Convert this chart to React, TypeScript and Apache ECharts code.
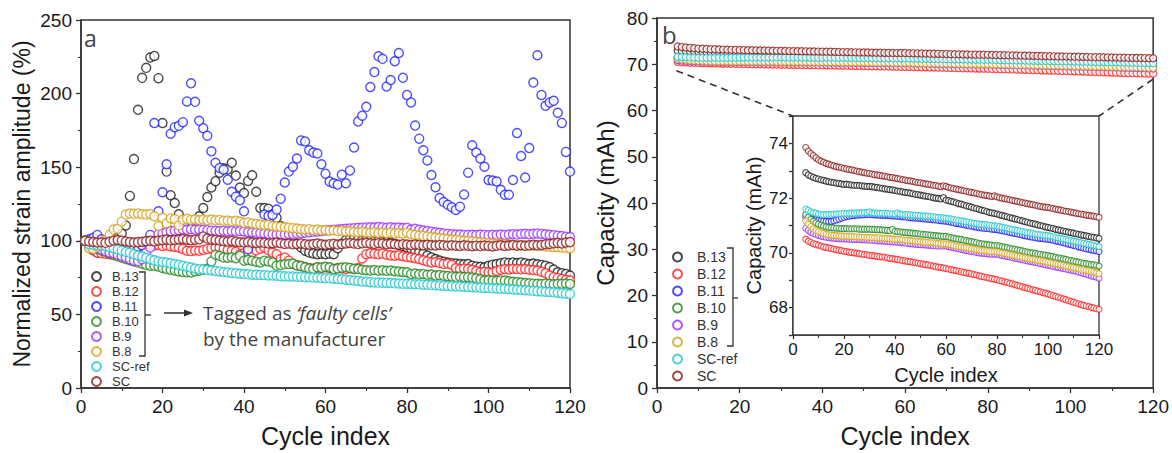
import React, { useEffect, useRef } from "react";
import * as echarts from "echarts";

const NAMES = ["B.13", "B.12", "B.11", "B.10", "B.9", "B.8", "SC-ref", "SC"];
const COLORS = ["#1a1a1a", "#ff1f1f", "#1f1fff", "#22881f", "#9b30ff", "#d4a21a", "#22c6cc", "#8b1a1a"];

// Panel a: normalized strain amplitude (%), cycles 1..120
const strainB13 = [100, 96, 93.5, 92, 93, 95, 97, 99, 102, 105,
  110.4, 130.5, 155.5, 189, 210.7, 217.5, 224.5, 225.6, 210.5, 180,
  147, 131, 125.7, 118, 113, 110, 108.5, 113.5, 116.7, 122.3,
  129.7, 136.2, 140.5, 146.3, 149.2, 148.5, 153, 144.3, 136.2, 132.4,
  140.7, 144.5, 133.3, 122.3, 122.3, 121.8, 118, 115.6, 110, 106,
  103, 100.5, 98, 95.5, 93.2, 92, 91.4, 90.9, 91.2, 90.9,
  91.3, 90.9, 95, 98, 100.5, 101, 101.5, 100.8, 100.2, 100.6,
  100.1, 99.8, 100, 99.5, 99.2, 98.6, 98, 97.2, 96.4, 95.5,
  94.6, 93.5, 92.4, 91.2, 90, 88.7, 87.6, 86.6, 85.8, 85.2,
  84.8, 84.5, 84.2, 84, 84.2, 83.1, 82.6, 82.3, 82, 83,
  83.8, 84.2, 84.8, 85.3, 85, 85.3, 84.9, 85.3, 84.8, 84.2,
  84.5, 84, 83.6, 83.1, 82.2, 80.5, 78.6, 78, 77.5, 76.4];
const strainB12 = [100, 97, 94, 92, 91.5, 91.2, 90.9, 90.3, 89.8, 91.5,
  93.5, 95.4, 96, 96.6, 97, 97.6, 97.2, 96.8, 97.1, 96.5,
  96.9, 96.2, 95.8, 95.4, 94.5, 93.2, 93, 93.4, 93.2, 93.8,
  94.5, 95, 95.4, 95.2, 94.6, 93.8, 93.2, 92.5, 90.9, 91.5,
  92.2, 92, 93.5, 94.6, 95.4, 93.5, 92, 90.9, 87.6, 88.7,
  86.5, 84.2, 83.5, 82.8, 82.2, 81.6, 81.2, 81.9, 81.5, 82,
  81.4, 80.9, 81.6, 81.1, 80.8, 81.3, 80.9, 81.5, 88, 90.9,
  91.5, 91.2, 90.9, 91.3, 90.6, 90.1, 89.8, 90.2, 89.5, 89,
  88.7, 88.2, 87.6, 86.8, 86, 85.3, 85.6, 84.9, 84.2, 84.5,
  83.6, 81.5, 80.8, 81.2, 80.8, 80.3, 79.4, 78.6, 78.9, 78.6,
  78.4, 79.5, 80.3, 80.8, 80.5, 81, 80.8, 80.6, 80.8, 80.3,
  80.1, 79.8, 79, 78, 76.5, 75.3, 74.8, 74.1, 73.5, 73];
const strainB11 = [100, 101, 102, 104, 101, 99.5, 98.5, 97.5, 97, 96.5,
  96, 95.5, 95.5, 96, 97, 99, 104, 180, 120, 133,
  152, 172.7, 177.2, 178.1, 180.6, 194.7, 207, 194.4, 181.5, 176.5,
  171.4, 160.8, 153, 149.5, 148.3, 141.5, 133.3, 130, 127.5, 120,
  94.3, 105.5, 107, 106.6, 117.8, 116.9, 117.5, 121.2, 128.6, 139.6,
  147, 150.3, 155.9, 168.2, 167.5, 161.5, 160, 159.3, 152, 145.6,
  140.3, 139.1, 138.2, 144.9, 139.1, 147.8, 163.4, 181, 185, 191,
  204.5, 214.6, 225.3, 223.6, 204.8, 209.2, 222, 227.6, 210.8, 199.1,
  194, 178.3, 169.4, 161.5, 154.6, 144.7, 136.4, 129, 126.3, 124.5,
  122.8, 121, 123.2, 131.5, 146.3, 164.9, 160, 155.9, 150.3, 141.3,
  140.9, 140.3, 134.6, 131.3, 131.3, 141.3, 173.2, 157.6, 143, 163,
  207.5, 226, 199.1, 191.7, 194, 195.1, 187, 180.1, 160.4, 147];
const strainB10 = [100, 97, 95.5, 94.5, 93.5, 92.5, 91.5, 90.5, 89.5, 88.5,
  87.6, 86.8, 86, 85.2, 84.4, 83.6, 83.1, 83, 82.5, 81.5,
  80.8, 80.3, 79.8, 79.2, 78.8, 78.6, 78.5, 79.3, 79.6, 80.5,
  81, 86, 90.5, 89.8, 88.7, 88.5, 88.8, 88.2, 89.8, 86.5,
  87, 86.5, 85.8, 85.3, 86.5, 85.9, 85.3, 83.1, 83.5, 84,
  84.2, 84.5, 83.2, 82.8, 82, 81.2, 80.8, 82, 81.8, 82.3,
  82, 80.8, 81.2, 81.8, 82, 81.6, 81, 80.8, 80.3, 80,
  79.8, 80.1, 79.7, 80, 79.6, 79.8, 79.3, 79.1, 78.8, 78.6,
  77.5, 77.8, 77.2, 77.5, 76.9, 77.1, 76.4, 76.7, 76.2, 76,
  75.8, 75.5, 75.7, 75.3, 75.3, 75, 74.5, 73.8, 73, 73.3,
  73, 72.8, 73.1, 73, 72.5, 72.2, 72, 71.6, 71.3, 71.1,
  70.9, 70.8, 70.6, 70.9, 70.7, 70.5, 70.8, 70.8, 71, 70.7];
const strainB9 = [100, 98, 96.5, 95, 94, 93, 92, 91.5, 90.5, 89.5,
  88.7, 87.5, 86.5, 86.2, 87.5, 92, 95.4, 100, 104.4, 105,
  105.8, 106.6, 106.9, 107.2, 107.7, 107.5, 107.9, 107.6, 107.7, 107.4,
  107.2, 106.9, 106.8, 106.6, 106.9, 106.5, 106.7, 106.4, 106.6, 106.3,
  106, 105.8, 105.5, 105.2, 105, 104.7, 104.4, 104.3, 104.5, 104.2,
  104.4, 104.6, 104.9, 105.2, 105.5, 105.8, 106.1, 106.4, 106.7, 107,
  107.3, 107.5, 107.7, 108, 108.2, 108.4, 108.6, 108.8, 108.9, 109.1,
  109.2, 109, 109.3, 109.1, 108.9, 109.2, 108.8, 109, 108.7, 108.9,
  107.7, 108.2, 107.5, 107, 106.6, 106.2, 105.8, 105.4, 105, 104.7,
  104.5, 104.3, 104.2, 104, 104, 104.1, 103.9, 104.2, 104, 103.8,
  104.1, 103.9, 104.2, 104, 104.3, 104.5, 104.2, 104.6, 104.8, 104.5,
  104.8, 105, 104.7, 104.4, 104.1, 103.8, 103.5, 103.2, 102.8, 102.6];
const strainB8 = [100, 95, 94.5, 96, 97.5, 100.5, 104, 107.7, 108.2, 113,
  117.8, 118.5, 118.3, 118.6, 118, 117.8, 118.2, 116.7, 110, 115.6,
  112, 115.2, 114.8, 110.5, 114.4, 114.9, 114.2, 114.6, 114.1, 114.5,
  114, 114.4, 113.9, 114.2, 113.6, 113.8, 113.3, 113.6, 113.1, 112.2,
  112.5, 111.8, 111.4, 111, 110.6, 110.8, 110, 109.8, 109.5, 109.2,
  108.9, 108.6, 108.3, 108, 107.7, 107.9, 107.4, 107.6, 107.1, 107.3,
  106.9, 107.1, 106.6, 106.8, 106.3, 106.5, 106, 105.8, 106.1, 105.7,
  105.5, 105.8, 105.3, 105.6, 105.2, 105.5, 105, 105.3, 104.8, 105.5,
  104.4, 104, 103.6, 103.3, 103, 102.6, 102.2, 101.9, 101.5, 101.2,
  100.9, 100.6, 100.3, 100, 99.9, 99.6, 99.3, 99, 98.7, 98.4,
  98.2, 98, 97.8, 97.6, 97.4, 97.2, 97, 96.9, 96.8, 96.7,
  96.6, 96.6, 96.4, 96.2, 96, 95.8, 95.6, 95.4, 95.2, 95];
const strainSCref = [100, 97.6, 97.3, 97, 96.8, 96.5, 95.7, 95, 94.1, 93.3,
  92.5, 91.8, 90.9, 90, 89.3, 88.4, 87.5, 86.7, 86, 85.6,
  85.2, 84.7, 84.2, 83.6, 83, 82.4, 81.8, 81.2, 80.7, 80.5,
  80.1, 79.8, 79.5, 79.2, 78.8, 78.5, 78.1, 77.9, 77.6, 77.4,
  77.2, 77, 76.9, 76.8, 76.7, 76.5, 76.4, 76.2, 76, 75.9,
  75.8, 75.7, 75.6, 75.5, 75.3, 75.2, 75, 74.9, 74.7, 74.6,
  74.5, 74.3, 74.1, 73.9, 73.6, 73.3, 73, 72.7, 72.4, 72.2,
  71.9, 71.7, 71.6, 71.5, 71.4, 71.3, 71.1, 71, 70.9, 70.8,
  70.7, 70.5, 70.4, 70.2, 70.1, 69.9, 69.8, 69.6, 69.5, 69.3,
  69.2, 69, 68.9, 68.8, 68.6, 68.5, 68.3, 68.2, 68, 67.9,
  67.7, 67.6, 67.5, 67.4, 67.2, 67, 66.8, 66.6, 66.4, 66.2,
  66, 65.8, 65.6, 65.4, 65.2, 65, 64.7, 64.4, 64.1, 63.8];
const strainSC = [100, 99.5, 99.2, 98.8, 99, 98.6, 99.3, 100.2, 100.5, 100.1,
  99.6, 99.2, 98.8, 99.1, 99.4, 99.8, 100, 99.6, 100.2, 100.4,
  100.8, 100.3, 100.6, 100.9, 101.2, 100.7, 100.4, 100.8, 101, 103,
  101.5, 100.9, 100.6, 100.2, 99.8, 99.5, 99.9, 99.4, 99, 98.8,
  99.2, 98.7, 98.5, 98.9, 98.6, 98.2, 98.4, 98.8, 98.3, 97.9,
  98.1, 97.6, 97.9, 98.2, 97.7, 97.4, 97.8, 98.1, 97.6, 97.3,
  97.7, 98, 97.5, 97.8, 98.2, 98.5, 98.1, 97.8, 98.3, 98.6,
  98.2, 97.9, 98.4, 98.1, 97.7, 98, 97.6, 97.3, 97.7, 97.4,
  97.1, 97.5, 97.2, 96.9, 97.3, 97, 96.8, 97.2, 96.9, 96.6,
  97, 96.7, 96.5, 96.9, 96.6, 96.3, 96.7, 96.4, 96.8, 96.5,
  96.2, 96.6, 96.9, 96.5, 96.8, 97.1, 96.7, 97, 96.6, 96.9,
  97.3, 96.9, 97.2, 97.6, 97.9, 98.3, 98.6, 98.2, 98.8, 99.1];

// Panel b: capacity (mAh), cycles 5..120
const capB13 = [72.93, 72.85, 72.8, 72.76, 72.72, 72.7, 72.67, 72.65, 72.62, 72.6,
  72.58, 72.57, 72.55, 72.54, 72.52, 72.5, 72.51, 72.49, 72.48, 72.47,
  72.47, 72.46, 72.45, 72.44, 72.43, 72.43, 72.42, 72.4, 72.39, 72.37,
  72.36, 72.34, 72.33, 72.31, 72.3, 72.28, 72.26, 72.25, 72.23, 72.21,
  72.2, 72.18, 72.16, 72.14, 72.13, 72.11, 72.09, 72.07, 72.06, 72.04,
  72.02, 72, 71.99, 71.97, 72.02, 71.93, 71.91, 71.88, 71.86, 71.83,
  71.8, 71.78, 71.75, 71.72, 71.7, 71.67, 71.64, 71.62, 71.59, 71.56,
  71.54, 71.51, 71.48, 71.46, 71.44, 71.42, 71.39, 71.37, 71.34, 71.32,
  71.29, 71.27, 71.24, 71.22, 71.19, 71.17, 71.14, 71.12, 71.09, 71.07,
  71.05, 71.02, 71, 70.98, 70.95, 70.93, 70.91, 70.89, 70.86, 70.84,
  70.82, 70.8, 70.78, 70.76, 70.74, 70.72, 70.7, 70.68, 70.66, 70.64,
  70.62, 70.6, 70.58, 70.57, 70.55, 70.53];
const capB12 = [70.5, 70.43, 70.38, 70.34, 70.31, 70.28, 70.25, 70.22, 70.2, 70.18,
  70.16, 70.14, 70.12, 70.1, 70.08, 70.06, 70.05, 70.03, 70.02, 70,
  69.99, 69.97, 69.96, 69.94, 69.93, 69.91, 69.9, 69.89, 69.87, 69.86,
  69.85, 69.84, 69.82, 69.8, 69.79, 69.77, 69.76, 69.74, 69.72, 69.71,
  69.69, 69.68, 69.66, 69.64, 69.63, 69.61, 69.59, 69.57, 69.56, 69.54,
  69.52, 69.5, 69.48, 69.47, 69.45, 69.43, 69.41, 69.39, 69.37, 69.35,
  69.33, 69.31, 69.29, 69.27, 69.25, 69.23, 69.21, 69.19, 69.16, 69.14,
  69.12, 69.1, 69.08, 69.06, 69.04, 69.02, 68.99, 68.97, 68.94, 68.92,
  68.89, 68.87, 68.84, 68.81, 68.79, 68.76, 68.73, 68.71, 68.68, 68.65,
  68.63, 68.6, 68.58, 68.55, 68.53, 68.5, 68.47, 68.44, 68.41, 68.38,
  68.35, 68.32, 68.29, 68.26, 68.23, 68.2, 68.17, 68.14, 68.11, 68.08,
  68.06, 68.04, 68.01, 67.99, 67.96, 67.94];
const capB11 = [71.3, 71.28, 71.25, 71.23, 71.21, 71.19, 71.17, 71.16, 71.15, 71.15,
  71.15, 71.17, 71.2, 71.23, 71.27, 71.3, 71.32, 71.34, 71.36, 71.37,
  71.38, 71.39, 71.39, 71.4, 71.4, 71.4, 71.4, 71.39, 71.39, 71.38,
  71.38, 71.37, 71.37, 71.36, 71.35, 71.35, 71.34, 71.33, 71.32, 71.31,
  71.3, 71.29, 71.28, 71.28, 71.27, 71.26, 71.25, 71.24, 71.23, 71.22,
  71.21, 71.2, 71.19, 71.18, 71.17, 71.16, 71.14, 71.12, 71.1, 71.08,
  71.07, 71.05, 71.03, 71.01, 70.99, 70.98, 70.96, 70.94, 70.92, 70.91,
  70.9, 70.89, 70.88, 70.87, 70.86, 70.85, 70.83, 70.81, 70.79, 70.77,
  70.75, 70.73, 70.71, 70.69, 70.67, 70.65, 70.63, 70.61, 70.59, 70.57,
  70.56, 70.54, 70.53, 70.52, 70.51, 70.5, 70.48, 70.46, 70.44, 70.42,
  70.4, 70.37, 70.35, 70.32, 70.3, 70.27, 70.25, 70.22, 70.2, 70.17,
  70.15, 70.13, 70.11, 70.09, 70.07, 70.05];
const capB10 = [71.4, 71.3, 71.22, 71.15, 71.1, 71.05, 71.01, 70.98, 70.95, 70.93,
  70.92, 70.91, 70.9, 70.9, 70.89, 70.89, 70.89, 70.88, 70.88, 70.88,
  70.88, 70.87, 70.87, 70.87, 70.87, 70.87, 70.86, 70.86, 70.85, 70.85,
  70.84, 70.83, 70.82, 70.81, 70.86, 70.79, 70.78, 70.77, 70.76, 70.75,
  70.74, 70.73, 70.72, 70.71, 70.7, 70.69, 70.68, 70.67, 70.66, 70.65,
  70.64, 70.63, 70.62, 70.61, 70.6, 70.6, 70.58, 70.56, 70.54, 70.52,
  70.5, 70.49, 70.47, 70.45, 70.43, 70.41, 70.39, 70.37, 70.35, 70.33,
  70.32, 70.3, 70.29, 70.28, 70.27, 70.27, 70.25, 70.23, 70.21, 70.19,
  70.17, 70.15, 70.13, 70.11, 70.09, 70.07, 70.05, 70.03, 70.01, 70,
  69.98, 69.96, 69.95, 69.93, 69.92, 69.9, 69.88, 69.86, 69.84, 69.82,
  69.8, 69.78, 69.76, 69.74, 69.72, 69.7, 69.68, 69.66, 69.64, 69.62,
  69.61, 69.59, 69.57, 69.56, 69.54, 69.52];
const capB9 = [70.9, 70.82, 70.76, 70.71, 70.67, 70.64, 70.61, 70.59, 70.57, 70.56,
  70.55, 70.54, 70.53, 70.52, 70.52, 70.51, 70.51, 70.5, 70.5, 70.49,
  70.49, 70.49, 70.48, 70.48, 70.47, 70.47, 70.46, 70.46, 70.45, 70.44,
  70.44, 70.43, 70.42, 70.41, 70.4, 70.4, 70.39, 70.38, 70.37, 70.36,
  70.35, 70.34, 70.33, 70.32, 70.31, 70.3, 70.3, 70.29, 70.28, 70.27,
  70.26, 70.26, 70.25, 70.25, 70.25, 70.25, 70.23, 70.21, 70.19, 70.17,
  70.15, 70.13, 70.11, 70.09, 70.07, 70.05, 70.04, 70.02, 70, 69.99,
  69.98, 69.97, 69.96, 69.95, 69.95, 69.95, 69.93, 69.91, 69.89, 69.87,
  69.85, 69.83, 69.81, 69.79, 69.77, 69.75, 69.73, 69.71, 69.69, 69.67,
  69.65, 69.63, 69.61, 69.59, 69.57, 69.55, 69.53, 69.51, 69.49, 69.47,
  69.45, 69.43, 69.41, 69.39, 69.37, 69.35, 69.33, 69.3, 69.28, 69.25,
  69.22, 69.19, 69.16, 69.14, 69.11, 69.08];
const capB8 = [71.17, 71.05, 70.96, 70.88, 70.82, 70.78, 70.74, 70.71, 70.68, 70.66,
  70.65, 70.64, 70.63, 70.62, 70.62, 70.61, 70.61, 70.6, 70.6, 70.59,
  70.59, 70.58, 70.58, 70.58, 70.57, 70.57, 70.56, 70.56, 70.55, 70.55,
  70.54, 70.53, 70.53, 70.52, 70.51, 70.5, 70.5, 70.49, 70.48, 70.47,
  70.46, 70.45, 70.44, 70.43, 70.42, 70.41, 70.4, 70.39, 70.38, 70.37,
  70.37, 70.36, 70.35, 70.34, 70.33, 70.33, 70.31, 70.29, 70.27, 70.25,
  70.24, 70.22, 70.2, 70.19, 70.17, 70.15, 70.14, 70.12, 70.11, 70.09,
  70.08, 70.07, 70.06, 70.05, 70.05, 70.04, 70.02, 70, 69.98, 69.96,
  69.94, 69.92, 69.9, 69.88, 69.86, 69.84, 69.82, 69.8, 69.78, 69.76,
  69.75, 69.73, 69.72, 69.7, 69.68, 69.66, 69.64, 69.62, 69.6, 69.58,
  69.56, 69.54, 69.52, 69.5, 69.48, 69.46, 69.44, 69.42, 69.4, 69.38,
  69.36, 69.34, 69.32, 69.3, 69.27, 69.24];
const capSCref = [71.6, 71.55, 71.5, 71.47, 71.45, 71.42, 71.41, 71.4, 71.4, 71.41,
  71.41, 71.42, 71.42, 71.43, 71.43, 71.44, 71.44, 71.45, 71.45, 71.45,
  71.46, 71.46, 71.46, 71.47, 71.47, 71.5, 71.46, 71.46, 71.45, 71.45,
  71.45, 71.44, 71.44, 71.43, 71.43, 71.42, 71.46, 71.42, 71.41, 71.4,
  71.4, 71.39, 71.38, 71.38, 71.37, 71.36, 71.35, 71.34, 71.34, 71.33,
  71.32, 71.31, 71.3, 71.29, 71.28, 71.27, 71.25, 71.24, 71.22, 71.2,
  71.19, 71.17, 71.15, 71.13, 71.12, 71.1, 71.08, 71.07, 71.05, 71.04,
  71.03, 71.02, 71.01, 71, 70.99, 70.98, 70.96, 70.94, 70.92, 70.9,
  70.88, 70.86, 70.84, 70.82, 70.8, 70.78, 70.76, 70.74, 70.73, 70.71,
  70.69, 70.68, 70.66, 70.65, 70.64, 70.63, 70.61, 70.59, 70.57, 70.55,
  70.53, 70.51, 70.49, 70.47, 70.45, 70.43, 70.41, 70.39, 70.37, 70.35,
  70.33, 70.31, 70.29, 70.27, 70.25, 70.23];
const capSC = [73.85, 73.72, 73.63, 73.55, 73.47, 73.4, 73.35, 73.31, 73.27, 73.24,
  73.21, 73.18, 73.15, 73.13, 73.11, 73.09, 73.07, 73.05, 73.03, 73.01,
  72.99, 72.97, 72.95, 72.93, 72.91, 72.9, 72.88, 72.86, 72.85, 72.83,
  72.81, 72.8, 72.78, 72.76, 72.75, 72.73, 72.71, 72.7, 72.68, 72.66,
  72.64, 72.63, 72.61, 72.59, 72.57, 72.56, 72.54, 72.52, 72.51, 72.49,
  72.47, 72.46, 72.44, 72.42, 72.45, 72.43, 72.39, 72.37, 72.35, 72.33,
  72.31, 72.29, 72.27, 72.25, 72.23, 72.21, 72.19, 72.17, 72.15, 72.13,
  72.11, 72.1, 72.08, 72.06, 72.08, 72.05, 72.02, 72, 71.98, 71.96,
  71.94, 71.92, 71.9, 71.88, 71.86, 71.84, 71.82, 71.8, 71.78, 71.76,
  71.74, 71.72, 71.7, 71.68, 71.67, 71.66, 71.64, 71.62, 71.6, 71.58,
  71.56, 71.54, 71.52, 71.51, 71.49, 71.47, 71.45, 71.43, 71.42, 71.4,
  71.38, 71.37, 71.35, 71.34, 71.32, 71.3];

const STRAIN = [strainB13, strainB12, strainB11, strainB10, strainB9, strainB8, strainSCref, strainSC];
const CAP = [capB13, capB12, capB11, capB10, capB9, capB8, capSCref, capSC];
const STRAIN_START = 1;
const CAP_START = 5;

const XTICKS = [0, 20, 40, 60, 80, 100, 120];
const LEFT_Y = { min: 0, max: 250, step: 50 };
const RIGHT_Y = { min: 0, max: 80, step: 10 };
const INSET_Y = { min: 67, max: 75, step: 1 };

const AX = "#333";
const FONT = "'Liberation Sans', Arial, sans-serif";
const NOTE_FONT = "'Open Sans', 'Noto Sans', sans-serif";

function axisCommon(fs: number) {
  return {
    axisLine: { show: true, lineStyle: { color: AX, width: 1.5 } },
    axisTick: { show: true, inside: false, length: 5, lineStyle: { color: AX, width: 1.3 } },
    minorTick: { show: true, splitNumber: 2, length: 3, lineStyle: { color: AX, width: 1.1 } },
    splitLine: { show: false },
    axisLabel: { color: "#1a1a1a", fontSize: fs, fontFamily: FONT },
  };
}

export default function App() {
  const ref = useRef<HTMLDivElement>(null);
  useEffect(() => {
    if (!ref.current) return;
    const chart = echarts.init(ref.current, null, { renderer: "svg" });
    const series: any[] = [];
    NAMES.forEach((name, k) => {
      const base = { type: "scatter", name, symbol: "circle", itemStyle: { color: "#fff", borderColor: COLORS[k] } };
      series.push({ ...base, xAxisIndex: 0, yAxisIndex: 0, symbolSize: 9,
        itemStyle: { ...base.itemStyle, borderWidth: 1.4 },
        data: STRAIN[k].map((v, i) => [STRAIN_START + i, v]) });
      series.push({ ...base, xAxisIndex: 1, yAxisIndex: 1, symbolSize: 7,
        itemStyle: { ...base.itemStyle, borderWidth: 1.2 },
        data: CAP[k].map((v, i) => [CAP_START + i, v]) });
      series.push({ ...base, xAxisIndex: 2, yAxisIndex: 2, symbolSize: 6, z: 5,
        itemStyle: { ...base.itemStyle, borderWidth: 1.1 },
        data: CAP[k].map((v, i) => [CAP_START + i, v]) });
    });
    const c = axisCommon(19);
    const ci = axisCommon(17);
    const option: any = {
      animation: false,
      backgroundColor: "#fff",
      grid: [
        { left: 81, top: 20, width: 489, height: 372, show: true, borderColor: AX, borderWidth: 1.5, backgroundColor: "transparent" },
        { left: 657, top: 18, width: 498, height: 375, show: true, borderColor: AX, borderWidth: 1.5, backgroundColor: "transparent" },
        { left: 793, top: 116, width: 306, height: 219, show: true, borderColor: AX, borderWidth: 1.3, backgroundColor: "#fff", z: 4 },
      ],
      xAxis: [
        { ...c, type: "value", gridIndex: 0, min: XTICKS[0], max: XTICKS[XTICKS.length - 1], interval: 20,
          axisLabel: { ...c.axisLabel, margin: 9 },
          name: "Cycle index", nameLocation: "middle", nameGap: 35,
          nameTextStyle: { fontSize: 25, fontFamily: FONT, color: "#1a1a1a" } },
        { ...c, type: "value", gridIndex: 1, min: XTICKS[0], max: XTICKS[XTICKS.length - 1], interval: 20,
          axisLabel: { ...c.axisLabel, margin: 9 },
          name: "Cycle index", nameLocation: "middle", nameGap: 35,
          nameTextStyle: { fontSize: 25, fontFamily: FONT, color: "#1a1a1a" } },
        { ...ci, type: "value", gridIndex: 2, min: XTICKS[0], max: XTICKS[XTICKS.length - 1], interval: 20,
          axisTick: { ...ci.axisTick, length: 4 },
          axisLabel: { ...ci.axisLabel, margin: 6 },
          name: "Cycle index", nameLocation: "middle", nameGap: 30,
          nameTextStyle: { fontSize: 20, fontFamily: FONT, color: "#1a1a1a" } },
      ],
      yAxis: [
        { ...c, type: "value", gridIndex: 0, min: LEFT_Y.min, max: LEFT_Y.max, interval: LEFT_Y.step,
          axisLabel: { ...c.axisLabel, margin: 9 },
          name: "Normalized strain amplitude (%)", nameLocation: "middle", nameGap: 48,
          nameTextStyle: { fontSize: 23, fontFamily: FONT, color: "#1a1a1a" } },
        { ...c, type: "value", gridIndex: 1, min: RIGHT_Y.min, max: RIGHT_Y.max, interval: RIGHT_Y.step,
          axisLabel: { ...c.axisLabel, margin: 9 },
          name: "Capacity (mAh)", nameLocation: "middle", nameGap: 40,
          nameTextStyle: { fontSize: 24, fontFamily: FONT, color: "#1a1a1a" } },
        { ...ci, type: "value", gridIndex: 2, min: INSET_Y.min, max: INSET_Y.max, interval: INSET_Y.step,
          axisTick: { ...ci.axisTick, length: 4 },
          minorTick: { show: false },
          axisLabel: { ...ci.axisLabel, margin: 5, formatter: (v: number) => (v % 2 === 0 ? String(v) : "") },
          name: "Capacity (mAh)", nameLocation: "middle", nameGap: 29,
          nameTextStyle: { fontSize: 20, fontFamily: FONT, color: "#1a1a1a" } },
      ],
      legend: [
        { data: NAMES, orient: "vertical", left: 91, top: 270, padding: 0, itemWidth: 9, itemHeight: 9, itemGap: 2,
          icon: "circle", selectedMode: false,
          textStyle: { fontSize: 13, fontFamily: FONT, color: "#333", padding: [0, 0, 0, 6] } },
        { data: NAMES, orient: "vertical", left: 672, top: 250, padding: 0, itemWidth: 9, itemHeight: 9, itemGap: 3,
          icon: "circle", selectedMode: false,
          textStyle: { fontSize: 14, fontFamily: FONT, color: "#333", padding: [0, 0, 0, 10] } },
      ],
      series,
    };
    chart.setOption(option);

    const p1 = chart.convertToPixel({ gridIndex: 1 } as any, [4.7, 68.6]) as number[];
    const p2 = chart.convertToPixel({ gridIndex: 1 } as any, [120, 66.8]) as number[];
    const q1 = chart.convertToPixel({ gridIndex: 2 } as any, [0, 75]) as number[];
    const q2 = chart.convertToPixel({ gridIndex: 2 } as any, [120, 75]) as number[];
    const dash = { stroke: "#333", lineWidth: 1.6, lineDash: [7, 5] };
    const brk = { stroke: "#333", lineWidth: 1.3, fill: null };
    chart.setOption({
      graphic: [
        { type: "line", id: "d1", shape: { x1: p1[0], y1: p1[1], x2: q1[0], y2: q1[1] }, style: dash, z: 10 },
        { type: "line", id: "d2", shape: { x1: p2[0], y1: p2[1], x2: q2[0], y2: q2[1] }, style: dash, z: 10 },
        { type: "text", id: "ta", x: 84, y: 38, style: { text: "a", font: `23px ${NOTE_FONT}`, fill: "#444", textVerticalAlign: "middle" }, z: 10 },
        { type: "text", id: "tb", x: 662, y: 34, style: { text: "b", font: `24px ${NOTE_FONT}`, fill: "#444", textVerticalAlign: "middle" }, z: 10 },
        { type: "polyline", id: "bl", shape: { points: [[139, 272], [145, 272], [145, 356], [139, 356]] }, style: brk, z: 10 },
        { type: "line", id: "blm", shape: { x1: 145, y1: 315, x2: 151, y2: 315 }, style: brk, z: 10 },
        { type: "line", id: "ar", shape: { x1: 164, y1: 313, x2: 186, y2: 313 }, style: { stroke: "#333", lineWidth: 1.5 }, z: 10 },
        { type: "polygon", id: "arh", shape: { points: [[193, 313], [184, 309.5], [184, 316.5]] }, style: { fill: "#333" }, z: 10 },
        { type: "text", id: "t1", x: 203, y: 313, z: 10,
          style: { text: "{n|Tagged as }{i|‘faulty cells’}", textVerticalAlign: "middle", fill: "#444",
            rich: { n: { fontSize: 19, fontFamily: NOTE_FONT, fill: "#444" }, i: { fontSize: 19, fontFamily: NOTE_FONT, fontStyle: "italic", fill: "#444" } } } },
        { type: "text", id: "t2", x: 203, y: 339, z: 10,
          style: { text: "by the manufacturer", font: `19px ${NOTE_FONT}`, fill: "#444", textVerticalAlign: "middle" } },
        { type: "polyline", id: "br", shape: { points: [[727, 248], [733, 248], [733, 346], [727, 346]] }, style: brk, z: 10 },
        { type: "line", id: "brm", shape: { x1: 733, y1: 298, x2: 738, y2: 298 }, style: brk, z: 10 },
      ],
    });
    return () => chart.dispose();
  }, []);
  return <div ref={ref} style={{ position: "fixed", left: 0, top: 0, width: 1172, height: 453, background: "#fff" }} />;
}
